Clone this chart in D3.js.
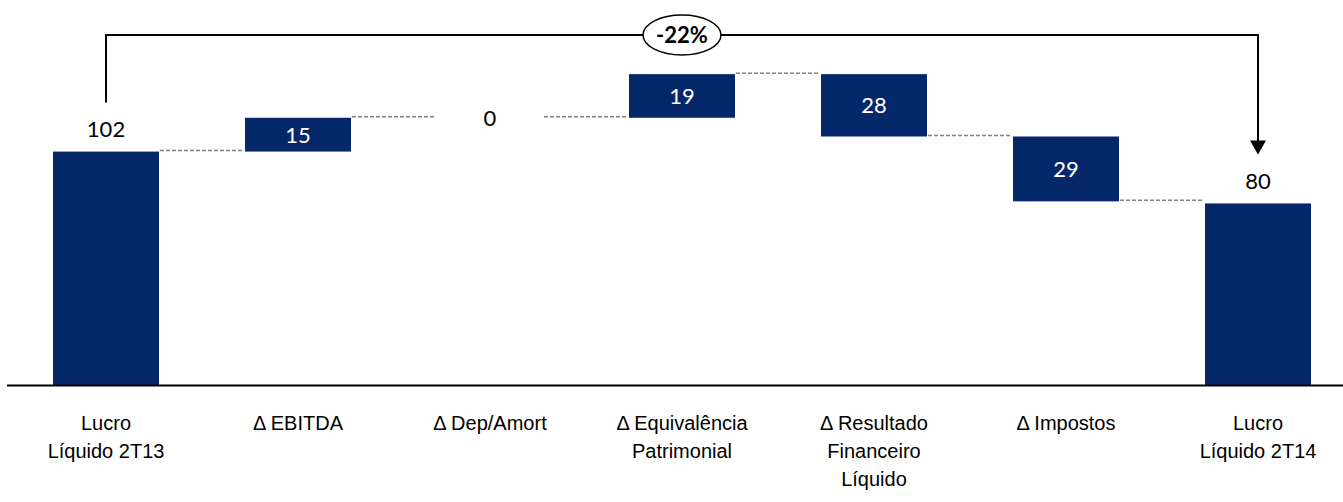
<!DOCTYPE html>
<html>
<head>
<meta charset="utf-8">
<script src="https://cdn.jsdelivr.net/npm/d3@7"></script>
<style>
  body { margin: 0; background: #fff; }
  svg { display: block; font-family: Lato, "Open Sans", sans-serif; }
</style>
</head>
<body>
<div id="chart"></div>
<script>
const WIDTH = 1343;
const HEIGHT = 502;
const BAR_COLOR = "#06286a";

// data
const categories = ["Lucro Líquido 2T13", "Δ EBITDA", "Δ Dep/Amort", "Δ Equivalência Patrimonial",
  "Δ Resultado Financeiro Líquido", "Δ Impostos", "Lucro Líquido 2T14"];
const labelLines = [["Lucro", "Líquido 2T13"], ["Δ EBITDA"], ["Δ Dep/Amort"], ["Δ Equivalência", "Patrimonial"],
  ["Δ Resultado", "Financeiro", "Líquido"], ["Δ Impostos"], ["Lucro", "Líquido 2T14"]];
const kinds = ["total", "delta", "delta", "delta", "delta", "delta", "total"];
// values (labels are the rounded figures)
const values = [102.2, 14.8, 0, 19.1, -27.3, -28.4, 79.5];
const valueLabels = ["102", "15", "0", "19", "28", "29", "80"];
const changeLabel = "-22%";

// build waterfall segments
let running = 0;
const bars = categories.map(function(c, i) {
  let lo, hi;
  if (kinds[i] == "total") {
    lo = 0; hi = values[i]; running = values[i];
  } else {
    let next = running + values[i];
    lo = Math.min(running, next); hi = Math.max(running, next);
    running = next;
  }
  return {cat: c, lo: lo, hi: hi, level: running, kind: kinds[i], value: values[i], label: valueLabels[i]};
});

let xScale = d3.scaleBand().domain(categories).range([10, 1354]).paddingInner(0.448).paddingOuter(0.224);
let yScale = d3.scaleLinear().domain([0, 140]).range([385, 385 - 140 * 2.284]);

let svg = d3.select("#chart").append("svg")
  .attr("width", WIDTH)
  .attr("height", HEIGHT);

// connectors
let conn = svg.append("g").classed("connectors", true);
conn.selectAll("line").data(bars.slice(0, -1)).enter()
  .append("line")
  .attr("x1", function(d) { return xScale(d.cat) + xScale.bandwidth() + 1; })
  .attr("x2", function(d, i) { return xScale(categories[i + 1]) - 2; })
  .attr("y1", function(d) { return yScale(d.level) - 1; })
  .attr("y2", function(d) { return yScale(d.level) - 1; })
  .attr("stroke", "#808080")
  .attr("stroke-width", 1.5)
  .attr("stroke-dasharray", "4,2");

// bars
let barG = svg.append("g").classed("bars", true);
barG.selectAll("rect").data(bars.filter(function(d) { return d.hi > d.lo; })).enter()
  .append("rect")
  .attr("x", function(d) { return xScale(d.cat); })
  .attr("width", xScale.bandwidth())
  .attr("y", function(d) { return yScale(d.hi); })
  .attr("height", function(d) { return yScale(d.lo) - yScale(d.hi); })
  .attr("fill", BAR_COLOR);

// value labels
svg.append("g").classed("values", true)
  .selectAll("text").data(bars).enter()
  .append("text")
  .attr("x", function(d) { return xScale(d.cat) + xScale.bandwidth() / 2; })
  .attr("y", function(d) {
    if (d.kind == "total") return yScale(d.hi) - 22;
    if (d.hi == d.lo) return yScale(d.hi);
    return (yScale(d.hi) + yScale(d.lo)) / 2;
  })
  .attr("dy", "0.36em")
  .attr("text-anchor", "middle")
  .attr("font-size", "22px")
  .attr("fill", function(d) { return (d.kind == "delta" && d.hi > d.lo) ? "#fff" : "#000"; })
  .text(function(d) { return d.label; });

// x axis
let xAxis = d3.axisBottom(xScale).tickSize(0).tickSizeOuter(0).tickFormat("");
let axisG = svg.append("g")
  .attr("class", "x axis")
  .attr("transform", "translate(0,385.5)")
  .call(xAxis);
axisG.select(".domain").attr("d", "M7,0H1343").attr("stroke", "#000").attr("stroke-width", 2);
axisG.selectAll(".tick text").remove();
axisG.selectAll(".tick").each(function(d, i) {
  let t = d3.select(this).append("text")
    .attr("fill", "#000")
    .attr("font-size", "20px")
    .attr("text-anchor", "middle")
    .attr("y", 44);
  labelLines[i].forEach(function(line, j) {
    t.append("tspan").attr("x", 0).attr("dy", j == 0 ? 0 : 28).text(line);
  });
});

// change bracket
let xs = xScale(categories[0]) + xScale.bandwidth() / 2;
let xe = xScale(categories[categories.length - 1]) + xScale.bandwidth() / 2;
let ys = yScale(values[0]) - 49;
let ye = yScale(values[values.length - 1]) - 49;
let topY = 35;
svg.append("path")
  .attr("d", `M${xs},${ys}V${topY}H${xe}V${ye - 13}`)
  .attr("fill", "none")
  .attr("stroke", "#000")
  .attr("stroke-width", 2);
svg.append("path")
  .attr("d", `M${xe - 8},${ye - 14}L${xe + 8},${ye - 14}L${xe},${ye}Z`)
  .attr("fill", "#000");
let cx = (xs + xe) / 2;
svg.append("ellipse")
  .attr("cx", cx).attr("cy", topY)
  .attr("rx", 39).attr("ry", 20)
  .attr("fill", "#fff")
  .attr("stroke", "#000")
  .attr("stroke-width", 1.5);
svg.append("text")
  .attr("x", cx).attr("y", topY)
  .attr("dy", "0.36em")
  .attr("text-anchor", "middle")
  .attr("font-size", "22px")
  .attr("font-weight", "bold")
  .text(changeLabel);
</script>
</body>
</html>
